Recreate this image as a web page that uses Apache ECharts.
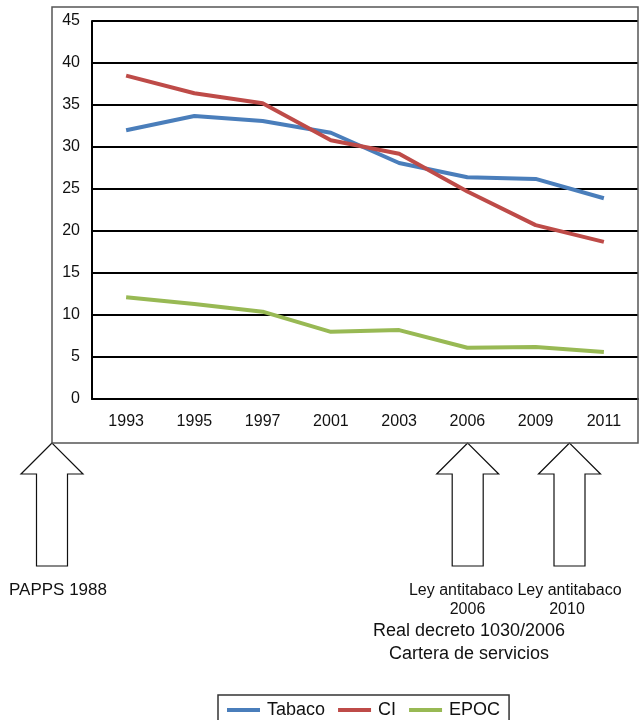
<!DOCTYPE html>
<html><head><meta charset="utf-8">
<script src="https://cdn.jsdelivr.net/npm/echarts@6/dist/echarts.min.js"></script>
<style>html,body{margin:0;padding:0;background:#fff}#c{width:643px;height:720px}</style>
</head><body><div id="c"></div>
<script>
const years = ['1993','1995','1997','2001','2003','2006','2009','2011'];
const tabaco = [32.0, 33.7, 33.1, 31.7, 28.1, 26.4, 26.2, 23.9];
const ci     = [38.5, 36.4, 35.2, 30.8, 29.2, 24.7, 20.7, 18.7];
const epoc   = [12.1, 11.3, 10.4, 8.0, 8.2, 6.1, 6.2, 5.6];
const yTicks = { min: 0, max: 45, interval: 5 };

const FONT = '"Liberation Sans", Arial, Helvetica, sans-serif';
function arrow(cx) {
  return {
    type: 'polygon',
    shape: { points: [[cx,443],[cx-31,474],[cx-15.5,474],[cx-15.5,566],[cx+15.5,566],[cx+15.5,474],[cx+31,474]] },
    style: { fill: '#fff', stroke: '#111', lineWidth: 1.2 }
  };
}
function txt(x, y, s, size, align) {
  return { type: 'text', x: x, y: y, style: { text: s, fill: '#111', font: size + 'px ' + FONT, align: align || 'center', verticalAlign: 'middle' } };
}
const chart = echarts.init(document.getElementById('c'));
chart.setOption({
  animation: false,
  backgroundColor: '#fff',
  grid: { left: 92, right: 5, top: 21, bottom: 321 },
  xAxis: {
    type: 'category', data: years, boundaryGap: true,
    axisLine: { show: true, lineStyle: { color: '#000', width: 2 } },
    axisTick: { show: false },
    axisLabel: { color: '#111', fontSize: 16, fontFamily: FONT, margin: 15 },
    splitLine: { show: false }
  },
  yAxis: {
    type: 'value', min: yTicks.min, max: yTicks.max, interval: yTicks.interval,
    axisLine: { show: true, lineStyle: { color: '#000', width: 2 } },
    axisTick: { show: false },
    axisLabel: { color: '#111', fontSize: 16, fontFamily: FONT, margin: 12 },
    splitLine: { show: true, lineStyle: { color: '#000', width: 2 } }
  },
  legend: {
    left: 218, top: 695, orient: 'horizontal',
    padding: [6, 9, 12, 9], itemGap: 13, itemWidth: 33, itemHeight: 4,
    borderColor: '#333', borderWidth: 1.5,
    icon: 'rect',
    textStyle: { color: '#111', fontSize: 18, fontFamily: FONT, padding: [0,0,0,2] },
    data: ['Tabaco', 'CI', 'EPOC']
  },
  series: [
    { name: 'Tabaco', type: 'line', data: tabaco, symbol: 'none', color: '#4a7ebb', lineStyle: { width: 4, color: '#4a7ebb' } },
    { name: 'CI', type: 'line', data: ci, symbol: 'none', color: '#be4b48', lineStyle: { width: 4, color: '#be4b48' } },
    { name: 'EPOC', type: 'line', data: epoc, symbol: 'none', color: '#98b954', lineStyle: { width: 4, color: '#98b954' } }
  ],
  graphic: [
    { type: 'rect', shape: { x: 52, y: 7, width: 586, height: 436 }, style: { fill: 'none', stroke: '#555', lineWidth: 1.5 }, z: 100 },
    arrow(52), arrow(467.7), arrow(569.5),
    txt(9, 590, 'PAPPS 1988', 17, 'left'),
    txt(461, 591, 'Ley antitabaco', 16),
    txt(467.5, 610, '2006', 16),
    txt(569.5, 591, 'Ley antitabaco', 16),
    txt(567, 610, '2010', 16),
    txt(469, 631, 'Real decreto 1030/2006', 18),
    txt(469, 654, 'Cartera de servicios', 18)
  ]
});
</script></body></html>
